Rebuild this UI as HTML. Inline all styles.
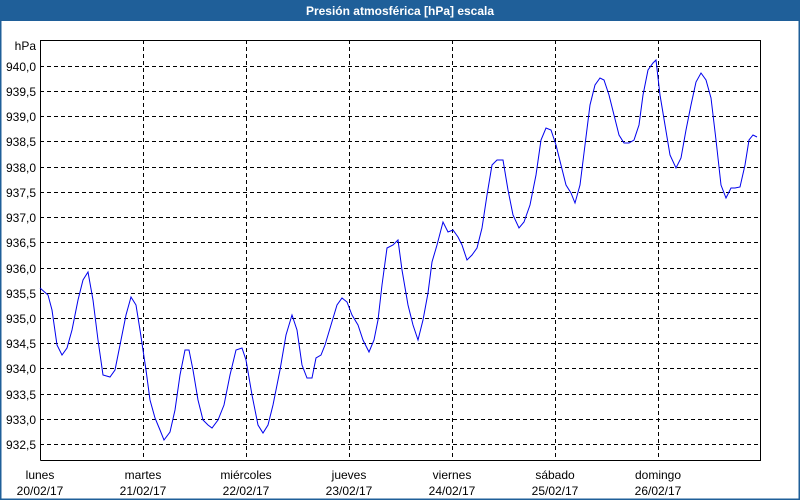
<!DOCTYPE html>
<html><head><meta charset="utf-8"><style>
body{margin:0;background:#fff;}
svg{display:block;font-family:"Liberation Sans","DejaVu Sans",sans-serif;}
</style></head><body>
<svg width="800" height="500" xmlns="http://www.w3.org/2000/svg">
<rect x="0" y="0" width="800" height="500" fill="#fff"/>
<rect x="0.5" y="0.5" width="799" height="499" fill="none" stroke="#1f5f99" stroke-width="2"/>
<rect x="0" y="0" width="800" height="21" fill="#1f5f99"/>
<text x="400" y="15" fill="#fff" font-size="12" font-weight="bold" text-anchor="middle">Presión atmosférica [hPa] escala</text>
<g stroke="#000" stroke-width="1" stroke-dasharray="4,3">
<line x1="40" y1="66.5" x2="760" y2="66.5"/><line x1="40" y1="91.5" x2="760" y2="91.5"/>
<line x1="40" y1="116.5" x2="760" y2="116.5"/><line x1="40" y1="141.5" x2="760" y2="141.5"/>
<line x1="40" y1="167.5" x2="760" y2="167.5"/><line x1="40" y1="192.5" x2="760" y2="192.5"/>
<line x1="40" y1="217.5" x2="760" y2="217.5"/><line x1="40" y1="242.5" x2="760" y2="242.5"/>
<line x1="40" y1="268.5" x2="760" y2="268.5"/><line x1="40" y1="293.5" x2="760" y2="293.5"/>
<line x1="40" y1="318.5" x2="760" y2="318.5"/><line x1="40" y1="343.5" x2="760" y2="343.5"/>
<line x1="40" y1="368.5" x2="760" y2="368.5"/><line x1="40" y1="394.5" x2="760" y2="394.5"/>
<line x1="40" y1="419.5" x2="760" y2="419.5"/><line x1="40" y1="444.5" x2="760" y2="444.5"/>
<line x1="143.5" y1="40" x2="143.5" y2="460"/><line x1="246.5" y1="40" x2="246.5" y2="460"/>
<line x1="349.5" y1="40" x2="349.5" y2="460"/><line x1="452.5" y1="40" x2="452.5" y2="460"/>
<line x1="555.5" y1="40" x2="555.5" y2="460"/><line x1="658.5" y1="40" x2="658.5" y2="460"/>
</g>
<polyline fill="none" stroke="#000" stroke-width="1" points="40.5,460.5 40.5,40.5 760.5,40.5 760.5,460.5 40.5,460.5"/>
<g font-size="12" fill="#000" text-anchor="end">
<text x="36" y="50">hPa</text>
<text x="36" y="71">940,0</text><text x="36" y="96">939,5</text><text x="36" y="121">939,0</text>
<text x="36" y="146">938,5</text><text x="36" y="172">938,0</text><text x="36" y="197">937,5</text>
<text x="36" y="222">937,0</text><text x="36" y="247">936,5</text><text x="36" y="273">936,0</text>
<text x="36" y="298">935,5</text><text x="36" y="323">935,0</text><text x="36" y="348">934,5</text>
<text x="36" y="373">934,0</text><text x="36" y="399">933,5</text><text x="36" y="424">933,0</text>
<text x="36" y="449">932,5</text>
</g>
<g font-size="12" fill="#000" text-anchor="middle">
<text x="40" y="479">lunes</text><text x="40" y="495">20/02/17</text>
<text x="143" y="479">martes</text><text x="143" y="495">21/02/17</text>
<text x="246" y="479">miércoles</text><text x="246" y="495">22/02/17</text>
<text x="349" y="479">jueves</text><text x="349" y="495">23/02/17</text>
<text x="452" y="479">viernes</text><text x="452" y="495">24/02/17</text>
<text x="555" y="479">sábado</text><text x="555" y="495">25/02/17</text>
<text x="658" y="479">domingo</text><text x="658" y="495">26/02/17</text>
</g>
<polyline fill="none" stroke="#0000ee" stroke-width="1" points="40,288 48,295 52,310 57,345 62,355 67,348 72,330 78,300 83,280 88,272 93,300 98,340 103,375 110,377 115,370 120,345 126,315 131,297 136,305 140,330 146,370 150,400 155,418 160,430 164,440 170,432 175,410 180,375 185,350 189,350 193,370 198,400 203,420 208,425 212,428 218,420 224,405 230,375 236,350 242,348 246,360 252,395 258,425 263,433 268,425 273,405 280,370 286,335 292,315 297,330 302,365 307,378 312,378 316,358 321,355 325,345 331,325 337,305 342,298 347,302 352,315 358,325 363,340 369,352 374,340 378,320 382,285 387,248 393,245 398,240 402,270 408,305 413,325 418,340 423,320 428,293 432,262 437,245 443,222 448,232 453,230 458,237 462,245 467,260 472,255 477,248 482,228 487,195 492,165 497,160 503,160 508,190 513,215 519,228 524,222 530,205 536,175 541,140 546,128 551,130 556,145 561,165 566,185 571,193 575,203 580,185 585,145 590,105 595,85 600,78 604,80 609,95 614,115 619,135 624,143 629,143 634,140 639,125 643,95 648,70 653,63 656,60 660,95 665,125 670,155 676,168 681,158 686,130 691,105 696,82 701,73 706,80 711,98 716,140 721,185 726,198 731,188 735,188 740,187 745,165 749,140 753,135 757,137"/>
</svg>
</body></html>
